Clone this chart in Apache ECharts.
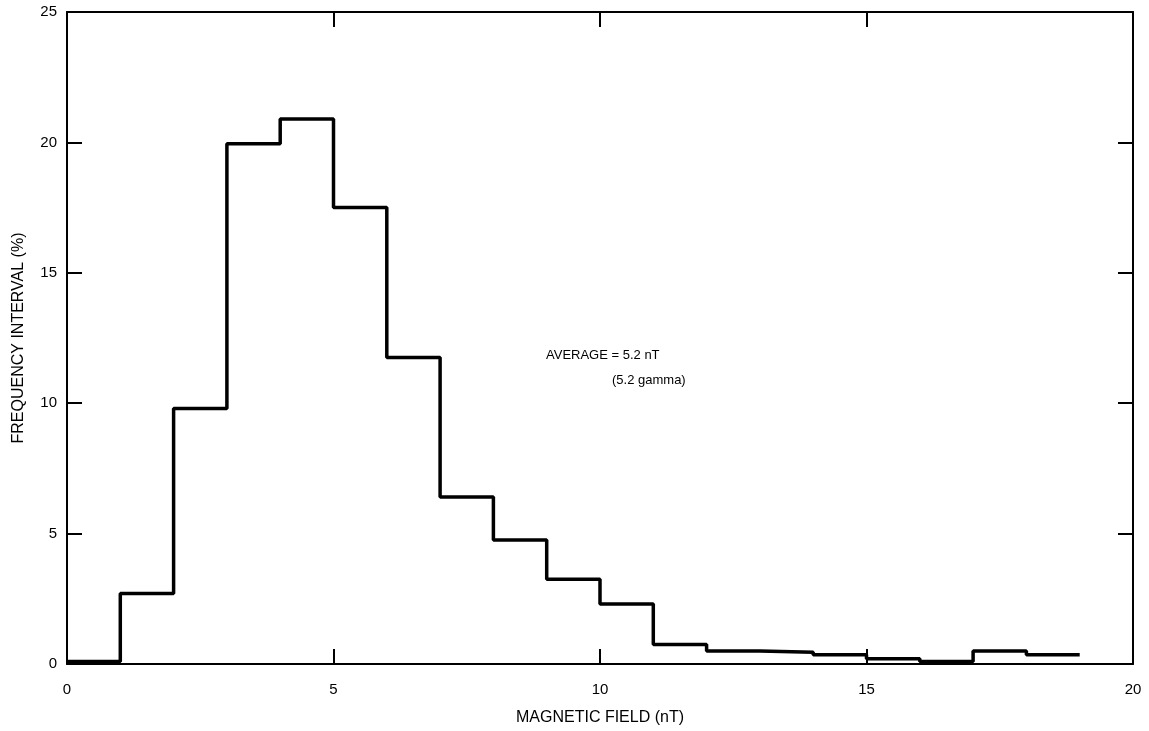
<!DOCTYPE html>
<html>
<head>
<meta charset="utf-8">
<script src="https://cdn.jsdelivr.net/npm/echarts@6/dist/echarts.min.js"></script>
<style>
html,body{margin:0;padding:0;background:#fff;}
#chart{width:1149px;height:731px;}
</style>
</head>
<body>
<div id="chart"></div>
<script>
// Histogram bins: field interval start (nT) and frequency (%)
const binStarts = [0,1,2,3,4,5,6,7,8,9,10,11,12,13,14,15,16,17,18];
const binEnd = 19;
const frequency = [0.1,2.7,9.8,19.95,20.9,17.5,11.75,6.4,4.75,3.25,2.3,0.75,0.5,0.45,0.35,0.2,0.1,0.5,0.35];
const xTicks = [0,5,10,15,20];
const yTicks = [0,5,10,15,20,25];
const xName = 'MAGNETIC FIELD (nT)';
const yName = 'FREQUENCY INTERVAL (%)';
const noteLines = ['AVERAGE = 5.2 nT', '(5.2 gamma)'];

const pts = binStarts.map((x,i)=>[x, frequency[i]]);
pts.push([binEnd, frequency[frequency.length-1]]);

const chart = echarts.init(document.getElementById('chart'));
const font = 'Liberation Sans, Arial, sans-serif';
const axisLine = {show:true, onZero:false, lineStyle:{color:'#000', width:2}};
const tick = {show:true, inside:true, length:15, lineStyle:{color:'#000', width:2}};

chart.setOption({
  animation:false,
  backgroundColor:'#fff',
  grid:{left:67, right:16, top:12, bottom:64},
  xAxis:[
    {type:'value', min:0, max:20, interval:5, position:'bottom',
     axisLine, axisTick:tick, splitLine:{show:false},
     axisLabel:{color:'#000', fontSize:15, fontFamily:font, margin:18,
       formatter:v=> xTicks.includes(v) ? String(v) : ''},
     name:xName, nameLocation:'middle', nameGap:46,
     nameTextStyle:{color:'#000', fontSize:16, fontFamily:font}},
    {type:'value', min:0, max:20, interval:5, position:'top',
     axisLine, axisTick:tick, axisLabel:{show:false}, splitLine:{show:false}}
  ],
  yAxis:[
    {type:'value', min:0, max:25, interval:5, position:'left',
     axisLine, axisTick:tick, splitLine:{show:false},
     axisLabel:{color:'#000', fontSize:15, fontFamily:font, margin:10,
       formatter:v=> yTicks.includes(v) ? String(v) : ''},
     name:yName, nameLocation:'middle', nameGap:40, nameRotate:90,
     nameTextStyle:{color:'#000', fontSize:16, fontFamily:font}},
    {type:'value', min:0, max:25, interval:5, position:'right',
     axisLine, axisTick:tick, axisLabel:{show:false}, splitLine:{show:false}}
  ],
  series:[{
    type:'line', step:'end', data:pts, symbol:'none',
    lineStyle:{color:'#000', width:3.5}, z:5
  }],
  graphic:[
    {type:'text', left:546, top:349, style:{text:noteLines[0], fill:'#000', font:'13px '+font}},
    {type:'text', left:612, top:374, style:{text:noteLines[1], fill:'#000', font:'13px '+font}}
  ]
});
</script>
</body>
</html>
